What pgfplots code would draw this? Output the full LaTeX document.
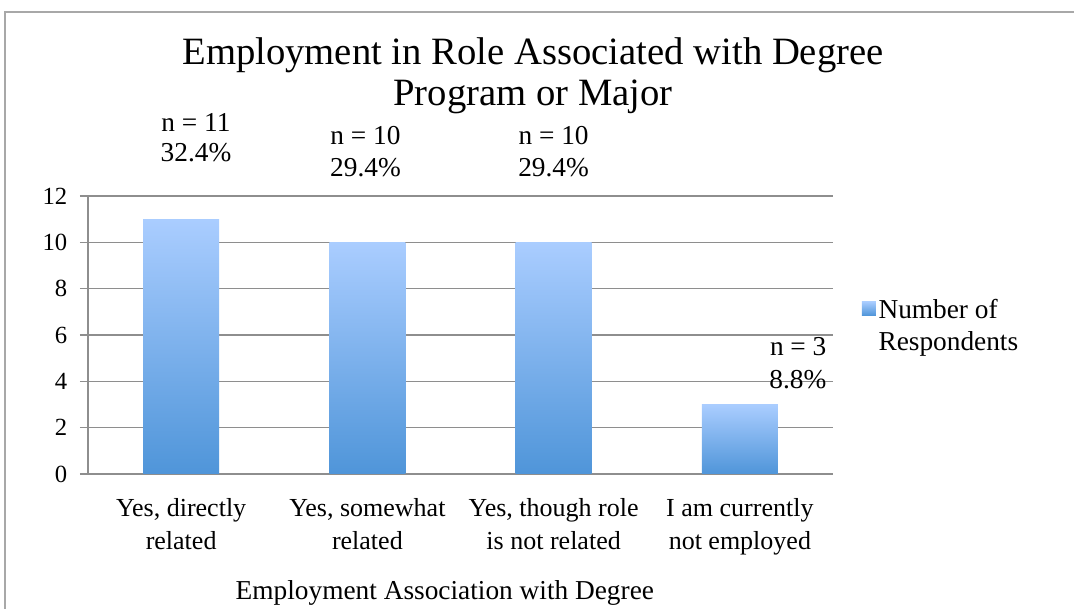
\documentclass[border=0pt]{standalone}
\usepackage{fontspec}
\setmainfont{Liberation Serif}
\usepackage{pgfplots}
\pgfplotsset{compat=1.18}
\definecolor{gridgray}{HTML}{8E8E8E}
\definecolor{bartop}{HTML}{AACDFF}
\definecolor{barbot}{HTML}{4F95D9}
\definecolor{framegray}{HTML}{A8A8A8}
\begin{document}
\begin{tikzpicture}
% chart frame and title
\draw[framegray, line width=1.2pt] (3.75pt,447.75pt) rectangle (815pt,-10pt);
\node[align=center, font=\fontsize{29}{30.75}\selectfont] at (399.75pt,400pt)
  {Employment in Role Associated with Degree\\Program or Major};
\begin{axis}[
  at={(66pt,101.25pt)}, anchor=south west,
  width=558.75pt, height=208.5pt, scale only axis,
  clip=false,
  xmin=-0.5, xmax=3.5, ymin=0, ymax=12,
  ytick={0,2,...,12},
  xtick={0,1,2,3},
  minor xtick={-0.5,0.5,1.5,2.5,3.5},
  xticklabels={{Yes, directly\\related},{Yes, somewhat\\related},{Yes, though role\\is not related},{I am currently\\not employed}},
  axis x line*=bottom, axis y line*=left,
  axis line style={gridgray, line width=1pt},
  tick align=outside,
  major tick length=6pt, minor tick length=6pt,
  xtick style={draw=none},
  minor x tick style={gridgray, line width=1pt},
  y tick style={gridgray, line width=1pt},
  ymajorgrids, grid style={gridgray, line width=1pt},
  /pgf/number format/assume math mode=true,
  xticklabel style={font=\fontsize{19.5}{24.75}\selectfont, align=center, yshift=-9pt},
  yticklabel style={font=\fontsize{18.5}{20}\selectfont, xshift=-6pt},
  xlabel={Employment Association with Degree},
  xlabel style={font=\fontsize{20.5}{24}\selectfont, at={(axis description cs:0.479,0)}, anchor=base, yshift=-94pt},
  legend style={at={(1.033,0.65)}, anchor=north west, draw=none, fill=none,
    font=\fontsize{20.5}{24}\selectfont, cells={align=left}},
  legend cell align=left,
]
\addplot[ybar, bar width=57pt, draw=none, top color=bartop, bottom color=barbot,
  legend image code/.code={\shade[top color=bartop, bottom color=barbot] (0pt,7.5pt) rectangle (10.5pt,18pt);}]
  coordinates {(0,11)};
\addlegendentry{Number of\\Respondents}
\addplot[ybar, bar width=57pt, draw=none, top color=bartop, bottom color=barbot, forget plot]
  coordinates {(1,10)};
\addplot[ybar, bar width=57pt, draw=none, top color=bartop, bottom color=barbot, forget plot]
  coordinates {(2,10)};
\addplot[ybar, bar width=57pt, draw=none, top color=bartop, bottom color=barbot, forget plot]
  coordinates {(3,3)};
% data labels
\node[align=center, font=\fontsize{20.5}{22.5}\selectfont] at (axis cs:0.08,14.5) {n = 11\\32.4\%};
\node[align=center, font=\fontsize{20.5}{24}\selectfont] at (axis cs:0.99,13.9) {n = 10\\29.4\%};
\node[align=center, font=\fontsize{20.5}{24}\selectfont] at (axis cs:2.0,13.9) {n = 10\\29.4\%};
\node[align=right, anchor=east, font=\fontsize{20.5}{25}\selectfont] at (axis cs:3.49,4.79) {n = 3\\8.8\%};
\end{axis}
\pgfresetboundingbox
\useasboundingbox (0,0) rectangle (805.5pt,456.75pt);
\end{tikzpicture}
\end{document}
